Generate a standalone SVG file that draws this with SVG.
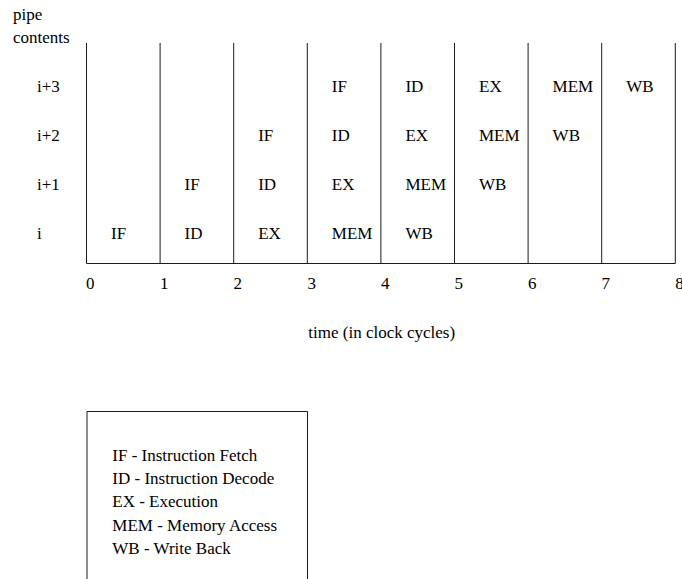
<svg xmlns="http://www.w3.org/2000/svg" width="682" height="579" viewBox="0 0 682 579">
<style>
text{font-family:"Liberation Serif","Times New Roman",serif;font-size:17px;fill:#000}
.ln{stroke:#1a1a1a;stroke-width:1;fill:none}
</style>
<rect width="682" height="579" fill="#fff"/>
<g id="axis-labels">
<text x="13" y="20">pipe</text>
<text x="13" y="43">contents</text>
<text x="37" y="92.3">i+3</text>
<text x="37" y="141.2">i+2</text>
<text x="37" y="190.1">i+1</text>
<text x="37" y="239">i</text>
</g>
<g id="grid">
<path class="ln" d="M86.5 43V263.5M160.1 43V263.5M233.7 43V263.5M307.3 43V263.5M380.9 43V263.5M454.5 43V263.5M528.1 43V263.5M601.7 43V263.5M675.3 43V263.5M86.5 263.5H675.3"/>
</g>
<g id="ticks">
<text x="86" y="288.5">0</text>
<text x="160" y="288.5">1</text>
<text x="233.5" y="288.5">2</text>
<text x="307.5" y="288.5">3</text>
<text x="381" y="288.5">4</text>
<text x="454.5" y="288.5">5</text>
<text x="528" y="288.5">6</text>
<text x="601.5" y="288.5">7</text>
<text x="675.3" y="288.5">8</text>
<text x="308.3" y="338.3">time (in clock cycles)</text>
</g>
<g id="row-i">
<text x="111" y="239">IF</text>
<text x="184.6" y="239">ID</text>
<text x="258.2" y="239">EX</text>
<text x="331.8" y="239">MEM</text>
<text x="405.4" y="239">WB</text>
</g>
<g id="row-i1">
<text x="184.6" y="190.1">IF</text>
<text x="258.2" y="190.1">ID</text>
<text x="331.8" y="190.1">EX</text>
<text x="405.4" y="190.1">MEM</text>
<text x="479" y="190.1">WB</text>
</g>
<g id="row-i2">
<text x="258.2" y="141.2">IF</text>
<text x="331.8" y="141.2">ID</text>
<text x="405.4" y="141.2">EX</text>
<text x="479" y="141.2">MEM</text>
<text x="552.6" y="141.2">WB</text>
</g>
<g id="row-i3">
<text x="331.8" y="92.3">IF</text>
<text x="405.4" y="92.3">ID</text>
<text x="479" y="92.3">EX</text>
<text x="552.6" y="92.3">MEM</text>
<text x="626.2" y="92.3">WB</text>
</g>
<g id="legend">
<path class="ln" d="M87 579V411.5H307.5V579"/>
<text x="112.3" y="460.7">IF - Instruction Fetch</text>
<text x="112.3" y="484">ID - Instruction Decode</text>
<text x="112.3" y="507.3">EX - Execution</text>
<text x="112.3" y="530.6">MEM - Memory Access</text>
<text x="112.3" y="553.9">WB - Write Back</text>
</g>
</svg>
